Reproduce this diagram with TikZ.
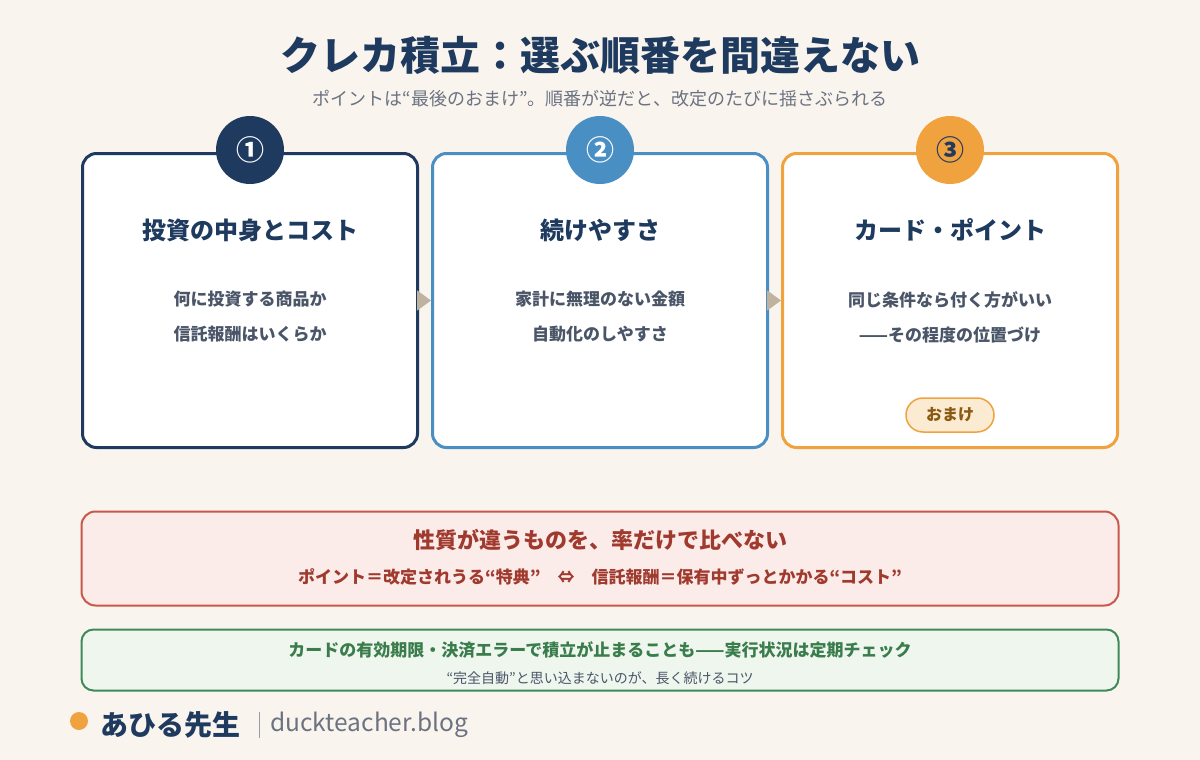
\documentclass[tikz,border=0pt]{standalone}
\usepackage{fontspec}
\setmainfont{Noto Sans CJK JP}
\usetikzlibrary{arrows.meta,positioning,calc}

\definecolor{bgpaper}{HTML}{F9F4EE}
\definecolor{navy}{HTML}{1F3A5F}
\definecolor{skyblue}{HTML}{4A8FC4}
\definecolor{amber}{HTML}{F0A23E}
\definecolor{slate}{HTML}{4A5568}
\definecolor{greyish}{HTML}{6B7280}
\definecolor{sand}{HTML}{BFB3A0}
\definecolor{brick}{HTML}{C9574A}
\definecolor{brickdark}{HTML}{A03A2E}
\definecolor{brickfill}{HTML}{FBECE9}
\definecolor{leaf}{HTML}{3F8A5A}
\definecolor{leafdark}{HTML}{3A7D4C}
\definecolor{leaffill}{HTML}{EFF6EE}
\definecolor{omakefill}{HTML}{FCEBD3}
\definecolor{omaketext}{HTML}{8A5A12}

\begin{document}
\begin{tikzpicture}[x=1pt,y=-1pt,
  card/.style={draw,line width=3pt,rounded corners=14pt,fill=white,
    minimum width=335pt,minimum height=294pt},
  badge/.style={circle,minimum size=68pt,inner sep=0pt,text=white,
    font=\fontsize{28}{30}\selectfont\bfseries},
  cardtitle/.style={text=navy,font=\fontsize{24}{28}\selectfont\bfseries},
  cardbody/.style={text=slate,align=center,font=\fontsize{17}{35}\selectfont\bfseries},
  flow/.style={draw=sand,line width=2pt,-{Triangle[length=14pt,width=20pt]}},
  notebox/.style={line width=2pt,rounded corners=14pt,minimum width=1037pt}]
  \fill[bgpaper] (0,0) rectangle (1200,760);
  \useasboundingbox (0,0) rectangle (1200,760);

  % heading
  \node[text=navy,font=\fontsize{40}{44}\selectfont\bfseries] (title) at (600,55)
    {クレカ積立：選ぶ順番を間違えない};
  \node[text=greyish,font=\fontsize{18}{21}\selectfont] (subtitle) at (600,99)
    {ポイントは“最後のおまけ”。順番が逆だと、改定のたびに揺さぶられる};

  % the three steps
  \node[card,draw=navy] (c1) at (250,300.5) {};
  \node[card,draw=skyblue] (c2) at (600,300.5) {};
  \node[card,draw=amber] (c3) at (950,300.5) {};
  \node[badge,fill=navy] (b1) at (250,150) {①};
  \node[badge,fill=skyblue] (b2) at (600,150) {②};
  \node[badge,fill=amber,text=navy] (b3) at (950,150) {③};

  \node[cardtitle] (t1) at (250,230) {投資の中身とコスト};
  \node[cardtitle] (t2) at (600,230) {続けやすさ};
  \node[cardtitle] (t3) at (950,230) {カード・ポイント};
  \node[cardbody] (d1) at (250,317) {何に投資する商品か\\信託報酬はいくらか};
  \node[cardbody] (d2) at (600,317) {家計に無理のない金額\\自動化のしやすさ};
  \node[cardbody] (d3) at (950,317) {同じ条件なら付く方がいい\\——その程度の位置づけ};
  \node[draw=amber,fill=omakefill,line width=1.5pt,rounded corners=17pt,
    minimum width=88pt,minimum height=34pt,text=omaketext,
    font=\fontsize{16}{18}\selectfont\bfseries] (omake) at (950,415) {おまけ};

  \draw[flow] (c1.east) -- (c2.west);
  \draw[flow] (c2.east) -- (c3.west);

  % warnings
  \node[notebox,draw=brick,fill=brickfill,minimum height=94pt] (warn) at (600,558.5) {};
  \node[text=brickdark,font=\fontsize{22}{26}\selectfont\bfseries] (warnhead) at (600,540)
    {性質が違うものを、率だけで比べない};
  \node[text=brickdark,font=\fontsize{17}{20}\selectfont\bfseries] (warnline) at (600,577)
    {ポイント＝改定されうる“特典”　⇔　信託報酬＝保有中ずっとかかる“コスト”};

  \node[notebox,draw=leaf,fill=leaffill,minimum height=61pt,rounded corners=12pt] (check) at (600,660) {};
  \node[text=leafdark,font=\fontsize{17}{20}\selectfont\bfseries] (checkhead) at (600,650)
    {カードの有効期限・決済エラーで積立が止まることも——実行状況は定期チェック};
  \node[text=slate,font=\fontsize{14}{16}\selectfont] (checkline) at (600,678)
    {“完全自動”と思い込まないのが、長く続けるコツ};

  % footer
  \node[circle,fill=amber,minimum size=18pt,inner sep=0pt] (dot) at (79,721) {};
  \node[anchor=west,text=navy,font=\fontsize{28}{30}\selectfont\bfseries,inner sep=0pt]
    (author) at (100,725) {あひる先生};
  \node[anchor=west,text=greyish,font=\fontsize{24.5}{28}\selectfont,inner sep=0pt]
    (blog) at (270,725) {duckteacher.blog};
  \draw[greyish!70,line width=1.5pt] ($(author.east)+(19,-13)$) -- ($(author.east)+(19,13)$);
\end{tikzpicture}
\end{document}
